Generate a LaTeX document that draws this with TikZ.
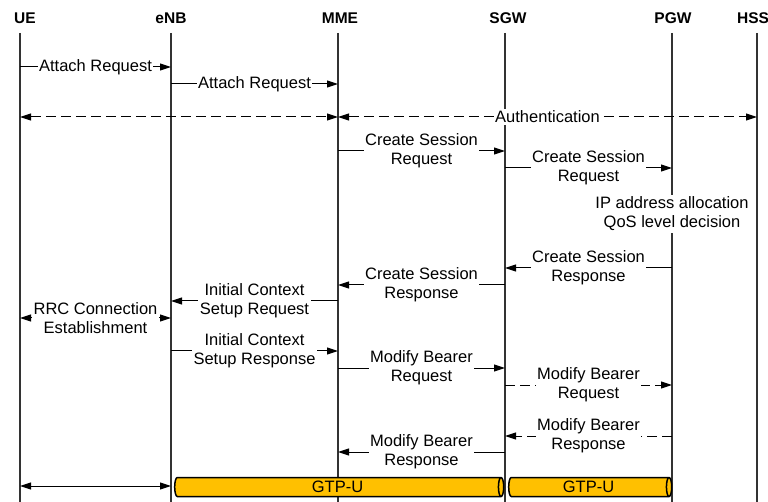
\documentclass[tikz,border=0pt]{standalone}
\usepackage{fontspec}
\setmainfont{Liberation Sans}
\usetikzlibrary{arrows.meta,shapes.geometric}
\definecolor{gtpfill}{HTML}{FFC000}
\definecolor{linegray}{HTML}{333333}
\tikzset{
    head/.style = {font=\bfseries\fontsize{15.5}{18}\selectfont},
    life/.style = {line width=1.2pt, draw=linegray},
    msg/.style = {line width=1pt, -{Triangle[length=11pt,width=7pt]}},
    twoway/.style = {line width=1pt, {Triangle[length=11pt,width=7pt]}-{Triangle[length=11pt,width=7pt]}},
    dashmsg/.style = {dash pattern=on 10pt off 5pt},
    lbl/.style = {fill=white, inner sep=1.5pt, align=center, font=\fontsize{16.5}{19}\selectfont},
    tunnel/.style = {cylinder, draw, line width=1.5pt, fill=gtpfill, shape border rotate=0,
        aspect=0.45, minimum width=19pt, inner sep=0pt, font=\fontsize{16.5}{19}\selectfont},
}

\begin{document}
\begin{tikzpicture}[x=1pt, y=-1pt]
\useasboundingbox (0,0) rectangle (768,502);

% headers
\node[head] (ueh) at (25,18.5) {UE};
\node[head] (enbh) at (171,18.5) {eNB};
\node[head] (mmeh) at (340,18.5) {MME};
\node[head] (sgwh) at (508,18.5) {SGW};
\node[head] (pgwh) at (673,18.5) {PGW};
\node[head] (hssh) at (753,18.5) {HSS};

% lifelines
\foreach \n/\x in {ue/20, enb/171, mme/338, sgw/505, pgw/672, hss/757} {
    \coordinate (\n) at (\x,33);
    \draw[life] (\n) -- ++(0,469);
}

% message rows
\foreach \n/\y in {att1/67, att2/84, auth/117, csr1/151, csr2/168, ipa/214,
    csp1/268, csp2/285, icsreq/301, rrc/318, icsrsp/351, mbr1/368, mbr2/385,
    mbp1/436, mbp2/452, bear/486}
    \coordinate (\n) at (0,\y);

\draw[msg] (ue |- att1) -- node[lbl] {Attach Request} (enb |- att1);
\draw[msg] (enb |- att2) -- node[lbl] {Attach Request} (mme |- att2);

\draw[twoway, dashmsg] (ue |- auth) -- (mme |- auth);
\draw[twoway, dashmsg] (mme |- auth) -- node[lbl] {Authentication} (hss |- auth);

\draw[msg] (mme |- csr1) -- node[lbl] {Create Session\\Request} (sgw |- csr1);
\draw[msg] (sgw |- csr2) -- node[lbl] {Create Session\\Request} (pgw |- csr2);

\node[lbl] (ipalloc) at (pgw |- ipa) {IP address allocation\\QoS level decision};

\draw[msg] (pgw |- csp1) -- node[lbl] {Create Session\\Response} (sgw |- csp1);
\draw[msg] (sgw |- csp2) -- node[lbl] {Create Session\\Response} (mme |- csp2);
\draw[msg] (mme |- icsreq) -- node[lbl] {Initial Context\\Setup Request} (enb |- icsreq);
\draw[twoway] (ue |- rrc) -- node[lbl] {RRC Connection\\Establishment} (enb |- rrc);
\draw[msg] (enb |- icsrsp) -- node[lbl] {Initial Context\\Setup Response} (mme |- icsrsp);

\draw[msg] (mme |- mbr1) -- node[lbl] {Modify Bearer\\Request} (sgw |- mbr1);
\draw[msg, dashmsg] (sgw |- mbr2) -- node[lbl] {Modify Bearer\\Request} (pgw |- mbr2);
\draw[msg, dashmsg] (pgw |- mbp1) -- node[lbl] {Modify Bearer\\Response} (sgw |- mbp1);
\draw[msg] (sgw |- mbp2) -- node[lbl] {Modify Bearer\\Response} (mme |- mbp2);

% user plane
\draw[twoway] (ue |- bear) -- (enb |- bear);
\node[tunnel, minimum height=329pt] (gtp1) at (337.5,487) {GTP-U};
\node[tunnel, minimum height=163pt] (gtp2) at (588.5,487) {GTP-U};
\end{tikzpicture}
\end{document}
